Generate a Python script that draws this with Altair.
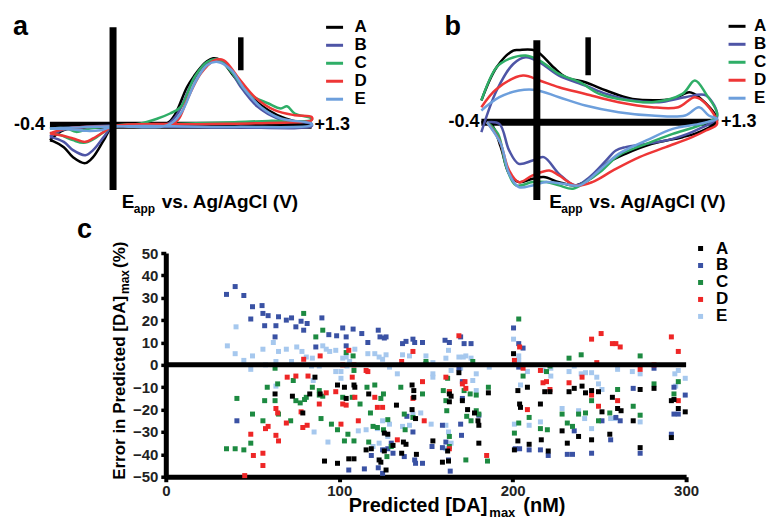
import altair as alt
import pandas as pd

FONT = "Liberation Sans"
SERIES = ["A", "B", "C", "D", "E"]
LINE_COLORS = ["#000000", "#4e55a6", "#2fae67", "#ee3636", "#6d9fdc"]
DOT_COLORS = ["#000000", "#3a52a4", "#1d8a41", "#ee2626", "#a6c8ee"]

# ---------------- panel a : (potential V, current a.u.) along the sweep ----------------
A_CV_A = [(-0.40, -15), (-0.31, -5), (-0.18, -2.5), (0.01, -1), (0.19, 0), (0.36, 1.7), (0.41, 10), (0.49, 38),
          (0.54, 50), (0.58, 58), (0.62, 64), (0.66, 67), (0.71, 65), (0.80, 48), (0.91, 28), (1.02, 15),
          (1.13, 6.7), (1.24, 2.3), (1.30, 1),
          (1.13, -1), (0.80, -1), (0.36, -1), (0.14, -1), (0.01, -1), (-0.05, -15), (-0.12, -32), (-0.17, -38),
          (-0.25, -32), (-0.31, -22), (-0.38, -16), (-0.40, -15)]
A_CV_B = [(-0.40, -11.7), (-0.31, -4.3), (0.01, -0.3), (0.36, 1), (0.43, 11.7), (0.52, 41.7), (0.60, 60),
          (0.67, 65.7), (0.71, 65), (0.76, 58.3), (0.84, 38.3), (0.95, 18.3), (1.08, 6.7), (1.30, 1),
          (1.30, -1), (0.80, -2.3), (0.15, -1), (0.01, -1), (-0.05, -11.7), (-0.12, -25), (-0.17, -30),
          (-0.25, -25), (-0.31, -16.7), (-0.40, -11.7)]
A_CV_C = [(-0.40, -3.3), (-0.29, -3.3), (-0.23, -6.7), (-0.14, -3.3), (0.01, -0.7), (0.19, 1.7), (0.30, 6.7),
          (0.38, 11.7), (0.45, 18.3), (0.54, 48.3), (0.62, 63.3), (0.69, 65.7), (0.78, 53.3), (0.89, 31.7),
          (1.02, 21.7), (1.10, 16.7), (1.14, 19), (1.19, 11.7), (1.30, 6.7),
          (1.30, 5), (1.02, 4.3), (0.80, 3), (0.36, 1), (0.01, -1), (-0.05, -6.7), (-0.12, -14.3),
          (-0.18, -17.7), (-0.25, -15), (-0.33, -10), (-0.40, -7.7)]
A_CV_D = [(-0.40, -8.3), (-0.29, -3.3), (0.01, -1), (0.36, 0), (0.43, 5), (0.49, 25), (0.58, 51.7), (0.67, 65),
          (0.73, 65), (0.82, 48.3), (0.93, 28.3), (1.06, 15), (1.19, 10), (1.30, 8.3),
          (1.30, 5), (1.02, 2.3), (0.58, 1), (0.01, -1), (-0.05, -6.7), (-0.12, -13.3), (-0.17, -16.7),
          (-0.25, -13.3), (-0.33, -10), (-0.40, -8.3)]
A_CV_E = [(-0.40, -3.3), (0.01, -1), (0.36, -0.3), (0.45, 11.7), (0.54, 41.7), (0.62, 60), (0.69, 63.3),
          (0.78, 55), (0.86, 36.7), (0.97, 18.3), (1.10, 6.7), (1.30, 1.7),
          (1.30, 0), (0.80, -1.7), (0.01, -1.7), (-0.07, -5), (-0.16, -5.7), (-0.25, -4.3), (-0.40, -3.3)]

# ---------------- panel b ----------------
B_CV_A = [(-0.40, 21.7), (-0.29, 55), (-0.17, 71.7), (-0.13, 72.3), (-0.01, 71.7), (0.12, 55), (0.21, 45),
          (0.35, 40), (0.50, 31.7), (0.69, 23.3), (0.98, 23.3), (1.10, 30), (1.17, 25), (1.30, 1.7),
          (1.17, -10), (1.05, -15), (0.83, -21.7), (0.64, -31.7), (0.50, -41.7), (0.40, -55), (0.28, -63.3),
          (0.16, -60), (0.05, -55), (-0.03, -56.7), (-0.13, -60), (-0.20, -51.7), (-0.26, -25), (-0.33, -1.7),
          (-0.40, 0)]
B_CV_B = [(-0.40, -10), (-0.29, 31.7), (-0.17, 58.3), (-0.08, 65), (0.02, 60), (0.16, 46.7), (0.35, 36.7),
          (0.50, 28.3), (0.69, 21.7), (0.88, 20), (1.07, 25), (1.22, 26.7), (1.30, 5),
          (1.17, -6.7), (0.98, -16.7), (0.79, -21.7), (0.64, -25), (0.57, -28.3), (0.50, -38.3), (0.38, -55),
          (0.28, -63.3), (0.16, -51.7), (0.05, -35), (-0.03, -38.3), (-0.13, -41.7), (-0.20, -28.3),
          (-0.27, -1.7), (-0.36, 0)]
B_CV_C = [(-0.40, 21.7), (-0.29, 55), (-0.20, 63.3), (-0.08, 66.7), (0.02, 61.7), (0.16, 48.3), (0.31, 40),
          (0.45, 28.3), (0.59, 23.3), (0.83, 20), (1.05, 28.3), (1.14, 41.7), (1.22, 28.3), (1.30, 6.7),
          (1.17, -3.3), (0.98, -11.7), (0.79, -21.7), (0.59, -33.3), (0.47, -48.3), (0.35, -60), (0.26, -66.7),
          (0.16, -63.3), (0.07, -60), (-0.03, -60), (-0.15, -63.3), (-0.22, -45), (-0.28, -11.7), (-0.36, 0)]
B_CV_D = [(-0.40, 15), (-0.29, 33.3), (-0.10, 46.7), (0.02, 41.7), (0.16, 35), (0.35, 28.3), (0.59, 20),
          (0.83, 15), (1.02, 15), (1.14, 25), (1.22, 18.3), (1.30, -1.7),
          (1.22, -8.3), (1.12, -15), (0.93, -25), (0.74, -35), (0.55, -48.3), (0.40, -60), (0.28, -63.3),
          (0.16, -53.3), (0.09, -48.3), (-0.03, -53.3), (-0.13, -60), (-0.20, -48.3), (-0.27, -18.3), (-0.36, 0)]
B_CV_E = [(-0.40, 11.7), (-0.27, 25), (-0.13, 31.7), (-0.01, 32.3), (0.16, 25), (0.35, 16.7), (0.59, 10),
          (0.83, 6.7), (1.07, 6.7), (1.17, 15), (1.24, 6.7), (1.30, 3.3),
          (1.17, -1.7), (0.98, -6.7), (0.79, -18.3), (0.59, -31.7), (0.45, -48.3), (0.31, -63.3), (0.19, -61.7),
          (0.07, -60), (-0.03, -63.3), (-0.13, -65), (-0.20, -51.7), (-0.26, -21.7), (-0.36, 0)]

# ---------------- panel c : (predicted [DA]max nM, error %) ----------------
PTS_A = [(63, -13), (73, -14), (79, -21.5), (83, -13), (86, -5.5), (89, -13), (91.5, -43), (99, -44), (99, -9),
         (103, -10), (104, -15), (105.5, -42), (108.5, -42), (108.5, -9), (109, -10), (115.5, -38), (118.5, -37.5),
         (117, -13), (123, -42.5), (124, -43.5), (126, -38.5), (127, -47), (126, -30.5), (128, -31), (131, -36),
         (133, -18), (136, -39.5), (137, -34.5), (138.5, -35.5), (142, -9), (143, -11.5), (143, -14.5), (144, -24),
         (142, -20), (144.5, -40), (154, -34), (159.5, -43.5), (162.5, -38.5), (163, -43), (163.5, -16.5),
         (164.5, -14), (169, -3.5), (171, -16), (174, -20), (178, -21.5), (163.5, -13), (180, -25), (180.5, -27),
         (180.5, -35), (186, -12.5), (200.5, 5), (203, -11.5), (204, -17.5), (204.5, -19), (208.5, -10), (203, -34),
         (201, -38), (209.5, -35.5), (216, -17.5), (216.5, -33.5), (220.5, -38.5), (218.5, -12), (221.5, -12),
         (228.5, -29.5), (231.5, -35), (232.5, -12), (235.5, -10.5), (238, -32), (240, -9.5), (242, -12.5),
         (245.5, -11.5), (245.5, -33.5), (249.5, -12), (251.5, -21), (256, -31), (257.5, -14.5), (260.5, -19.5),
         (262.5, -20.5), (269.5, -25), (273.5, -37), (273.5, -11), (281.5, -10.5), (291.5, -16), (293, -15.5),
         (295.5, -19.5), (299.5, -21), (291.5, -32.5)]
PTS_B = [(35, 31.5), (40, 35), (45, 31), (50, 26), (49, 20.5), (55.5, 26.5), (56, 23), (59, 22), (57, 17.5),
         (63, 12.5), (63.5, 17.5), (65, 21.5), (69.5, 20), (72.5, 21), (75, 17), (78, 19.5), (79.5, 15.5),
         (81.5, 18.5), (86.5, 8), (90, 21), (94, 13.5), (98.5, 13), (102, 16.5), (104, 12.5), (108, 16), (104, 8.5),
         (113, 14), (116.5, 10), (122.5, 15.5), (123.5, 12.5), (126, 12), (127, 12.5), (136.5, 9.5), (138.5, 10.5),
         (142.5, 11.5), (143.5, 10), (148, 10), (161, 11), (163.5, 10), (170, 12.5), (172, 9.5), (176, 9.5),
         (200.5, 16.5), (203.5, 9.5), (206, 7.5), (203.5, -1), (169, -1.5), (171, -7.5), (281.5, -1.5),
         (269.5, -10.5), (293, -10), (299.5, -13.5),
         (41, -25), (105.5, -47), (114.5, -46.5), (118.5, -40.5), (122.5, -46), (125, -48.5), (130, -35),
         (128, -37.5), (131, -39.5), (142.5, -30), (143.5, -42.5), (137.5, -41), (148, -44), (159.5, -37),
         (163, -42.5), (164, -47.5), (170, -26.5), (159.5, -27), (139, -23), (125, -38), (144, -44), (153.5, -36.5),
         (161.5, -34.5), (170.5, -31.5), (180.5, -22.5), (171, -15), (201.5, -37.5), (204, -37.5), (209.5, -38),
         (216, -38), (220.5, -40.5), (231.5, -40), (234.5, -40), (235.5, -29.5), (245.5, -39.5), (251.5, -25),
         (256.5, -33.5), (259.5, -23.5), (262, -25), (273.5, -39.5), (291.5, -31), (293, -22), (295.5, -22)]
PTS_C = [(79.5, 23), (86.5, 12.5), (90.5, 15.5), (104, 5.5), (177, 1.5), (150, 1.5), (63, -1.5), (64.5, -8.5),
         (58.5, -10), (63, -16), (65, -22), (57, -16), (41, -15), (50, -22), (56, -25), (49, -35), (35, -37.5),
         (40, -37.5), (45, -38), (72, -25), (73.5, -7), (75, -16), (77.5, -17), (80, -15.5), (81, -14.5), (84.5, -10),
         (88.5, -13.5), (90.5, -14), (88.5, -11.5), (89.5, -24), (95.5, -26.5), (99, -29), (103, -34), (105, -31),
         (102, -14.5), (107.5, -14.5), (108.5, -34), (108.5, -2.5), (108, 4), (112, -17.5), (116, -10),
         (120.5, -9), (124, -15), (125.5, -13), (118, -21.5), (119.5, -27.5), (122, -28), (125.5, -29), (128, -24.5),
         (130, -36.5), (127.5, -41), (117, -34.5), (135.5, -10), (137.5, -22), (138, -29), (142.5, -23.5),
         (148, -13), (150, 0.5), (160, -11.5), (163.5, -12), (161.5, -16), (162, -20.5), (163.5, -32),
         (163.5, -36.5), (172, -11.5), (173, -42.5), (176, -25), (179, -20.5), (162.5, -6), (175.5, -13),
         (179, -13.5), (173.5, -23), (180.5, -22), (186, -10), (185.5, -43), (203.5, 20.5), (206, -5),
         (203.5, -26), (201, -30.5), (209.5, -23.5), (216, -28.5), (220, -29), (219.5, -3), (221.5, -0.5),
         (228.5, -22), (231.5, -26), (234.5, -27.5), (238, -22), (242, -21.5), (245.5, -16), (249.5, -25),
         (256, -21.5), (260.5, -11), (269.5, -18.5), (273.5, -22.5), (273.5, 4), (281.5, -8.5), (295.5, -7.5),
         (293, -13), (232.5, 3), (239.5, 4.5)]
PTS_D = [(45.5, -49.5), (49, -31), (50.5, -40.5), (56, -39.5), (56, -45), (57.5, -28.5), (59, -27.5),
         (63.5, -19.5), (64.5, -21.5), (63.5, -31.5), (65, -34), (69.5, -26), (70, -5.5), (75, -5), (78, -21),
         (79, -28), (81.5, -27), (82, -5), (79.5, 2.5), (89, 4), (88.5, -17.5), (92.5, -12.5), (98, -12),
         (102, -17.5), (101, -26.5), (104, -18), (102, 0), (105.5, 6.5), (107.5, -5.5), (108.5, 0), (109, -14.5),
         (111, -25), (115.5, -2.5), (116.5, -3), (120.5, -14.5), (122, -19), (125, -19), (133.5, -33.5), (136, 1.5),
         (142.5, 6), (142.5, -15), (148, -7.5), (149, -25), (161.5, -5.5), (163.5, -12), (163.5, -37.5), (169, 13),
         (171, -8.5), (172.5, -7.5), (173, -10.5), (185, -40.5), (201, 2), (204, 8), (206, -1.5), (208.5, -20),
         (217.5, -8), (219.5, -7.5), (216, -2.5), (221.5, -11), (232.5, -8), (240, -5.5), (245.5, -13.5),
         (245.5, 11.5), (251, 14), (248.5, 1), (249.5, -18.5), (257.5, 9.5), (259.5, 9.5), (262, 8), (260.5, -16),
         (273.5, -2), (281.5, 0), (291.5, 12.5), (295.5, 6), (295.5, -16)]
PTS_E = [(35.5, 8.5), (40.5, 17), (40, 5), (45, 2), (50, 4), (49, -2), (56, 7), (57.5, 0), (62, 10), (63.5, 1.5),
         (65, 6), (69.5, 7), (72.5, 1.5), (75.5, 8), (78.5, 6), (81, 3.5), (84, -0.5), (84.5, 3), (88.5, -0.5),
         (85, -7), (90.5, 8.5), (92.5, 7), (94.5, 6), (98, 6.5), (102, 3), (101, -3), (104, 3.5), (106, 1.5),
         (109, 7), (98, -3), (101, -6), (104.5, -0.5), (116.5, 5), (120.5, 5), (123, 3.5), (125, 2.5), (127, 4.5),
         (129, -1), (133.5, -4), (136.5, 4.5), (140.5, 4), (150, 4), (154, 1), (161.5, 3), (163, 6.5), (169, 3.5),
         (173, 4), (176, 3), (179, -4), (170, -1.5), (154, -4), (154, -5.5), (171.5, 3.5), (164.5, -2.5),
         (171.5, -7.5), (177, -7), (186.5, -1), (200.5, 11.5), (203.5, 4), (203.5, 2), (204.5, -9), (208.5, -3),
         (217.5, -2.5), (222, -5), (222, -1.5), (232.5, -3), (235.5, -0.5), (239.5, -4), (242, -3.5),
         (245.5, -3.5), (248.5, -5.5), (249.5, -8.5), (251.5, -11), (260.5, -2), (269, -3), (273.5, -4),
         (293.5, -4), (295.5, -2.5), (299.5, -6), (294, -9.5),
         (63.5, -9.5), (85.5, -30), (93.5, -34.5), (111, -29.5), (115.5, -29), (122, -28.5), (125, -25),
         (129, -26.5), (123, -35), (126, -38), (128, -32), (119.5, -36.5), (136.5, -27.5), (140.5, -27), (144, -24),
         (147, -21.5), (161.5, -27), (163, -30), (164.5, -35), (161.5, -37.5), (179, -11.5), (201, -26.5),
         (209.5, -27), (216, -25.5), (228.5, -19.5), (238, -20.5), (241.5, -24), (245.5, -28.5), (256.5, -24),
         (259, -24), (273.5, -25.5), (153, -26.5), (142.5, -22)]

X_TICKS = [0, 100, 200, 300]
Y_TICKS = [-50, -40, -30, -20, -10, 0, 10, 20, 30, 40, 50]


def cv_df(curves):
    rows = []
    for s, pts in zip(SERIES, curves):
        for i, (e, c) in enumerate(pts):
            rows.append({"series": s, "idx": i, "E": e, "I": c})
    return pd.DataFrame(rows)


def txt(text, x, y, size, align="left", angle=0, baseline="alphabetic"):
    return alt.Chart(pd.DataFrame({"t": [text]})).mark_text(
        align=align, baseline=baseline, font=FONT, fontSize=size, fontWeight="bold",
        color="black", angle=angle
    ).encode(x=alt.value(x), y=alt.value(y), text="t:N")


def cv_panel(curves, ydom, width, height, vline, bar, letter, lab_x, leg, dxl, dxr, anchor=False):
    xs = alt.Scale(domain=[-0.4, 1.3], nice=False, zero=False)
    ys = alt.Scale(domain=ydom, nice=False, zero=False)
    df = cv_df(curves)
    hax = alt.Chart(pd.DataFrame({"x0": [-0.4], "x1": [1.3], "y": [0]})).mark_rule(
        strokeWidth=7, color="black", strokeCap="butt").encode(
        x=alt.X("x0:Q", scale=xs, axis=None), x2="x1:Q", y=alt.Y("y:Q", scale=ys, axis=None))
    lines = alt.Chart(df).mark_line(strokeWidth=2.5, interpolate="catmull-rom").encode(
        x=alt.X("E:Q", scale=xs, axis=None),
        y=alt.Y("I:Q", scale=ys, axis=None),
        color=alt.Color("series:N", scale=alt.Scale(domain=SERIES, range=LINE_COLORS), legend=leg),
        order="idx:Q")
    vl = alt.Chart(pd.DataFrame({"x": [vline[0]], "y0": [vline[1]], "y1": [vline[2]]})).mark_rule(
        strokeWidth=7, color="black", strokeCap="butt").encode(
        x=alt.X("x:Q", scale=xs, axis=None), y=alt.Y("y0:Q", scale=ys, axis=None), y2="y1:Q")
    sb = alt.Chart(pd.DataFrame({"x": [bar[0]], "y0": [bar[1]], "y1": [bar[2]]})).mark_rule(
        strokeWidth=5.5, color="black", strokeCap="butt").encode(
        x=alt.X("x:Q", scale=xs, axis=None), y=alt.Y("y0:Q", scale=ys, axis=None), y2="y1:Q")
    tl = alt.Chart(pd.DataFrame({"x": [-0.4], "y": [0], "t": ["-0.4"]})).mark_text(
        align="right", baseline="middle", dx=dxl, font=FONT, fontSize=18, fontWeight="bold", color="black").encode(
        x=alt.X("x:Q", scale=xs, axis=None), y=alt.Y("y:Q", scale=ys, axis=None), text="t:N")
    tr = alt.Chart(pd.DataFrame({"x": [1.3], "y": [0], "t": ["+1.3"]})).mark_text(
        align="left", baseline="middle", dx=dxr, font=FONT, fontSize=18, fontWeight="bold", color="black").encode(
        x=alt.X("x:Q", scale=xs, axis=None), y=alt.Y("y:Q", scale=ys, axis=None), text="t:N")
    layers = [hax, lines, vl, sb, tl, tr,
              txt(letter, -37, 15, 27),
              txt("E", lab_x, 188, 19),
              txt("app", lab_x + 12, 193, 12),
              txt("vs. Ag/AgCl (V)", lab_x + 40, 188, 19)]
    if anchor:
        layers.append(alt.Chart(pd.DataFrame({"v": [0]})).mark_rule(strokeOpacity=0).encode(
            x=alt.value(-42), x2=alt.value(-40), y=alt.value(-12)))
    return alt.layer(*layers).properties(width=width, height=height)


leg_a = alt.Legend(orient="none", legendX=275, legendY=-3, title=None, symbolType="stroke",
                   symbolSize=289, symbolStrokeWidth=3, labelFont=FONT, labelFontSize=17,
                   labelFontWeight="bold", labelColor="black", labelOffset=10, rowPadding=-1, padding=0)
leg_b = alt.Legend(orient="none", legendX=246, legendY=-4, title=None, symbolType="stroke",
                   symbolSize=289, symbolStrokeWidth=3, labelFont=FONT, labelFontSize=17,
                   labelFontWeight="bold", labelColor="black", labelOffset=7, rowPadding=-0.5, padding=0)

panel_a = cv_panel([A_CV_A, A_CV_B, A_CV_C, A_CV_D, A_CV_E], [-70, 105], 262, 175,
                   (0.01, -65, 98), (0.84, 55, 88), "a", 72, leg_a, -5, 3, anchor=True)
panel_b = cv_panel([B_CV_A, B_CV_B, B_CV_C, B_CV_D, B_CV_E], [-85, 102], 236, 187,
                   (0.0, -78, 82), (0.37, 47, 85), "b", 68, leg_b, -2, 4)

# ---------------- panel c ----------------
rows = []
for s, pts in [("E", PTS_E), ("B", PTS_B), ("C", PTS_C), ("D", PTS_D), ("A", PTS_A)]:
    for x, y in pts:
        rows.append({"series": s, "x": x, "y": y})
sdf = pd.DataFrame(rows)

xs_c = alt.Scale(domain=[0, 300], nice=False, zero=False)
ys_c = alt.Scale(domain=[-50, 50], nice=False, zero=False)
X_AX = alt.Axis(values=X_TICKS, title=None, grid=False, domainWidth=5, domainColor="black",
                tickWidth=4, tickSize=5, tickColor="black", labelFont=FONT, labelFontSize=15,
                labelFontWeight="bold", labelColor="#222222", labelPadding=2, labelFlush=False)
Y_AX = alt.Axis(values=Y_TICKS, title=None, grid=False, domainWidth=5, domainColor="black",
                tickWidth=3.5, tickSize=5, tickColor="black", labelFont=FONT, labelFontSize=15,
                labelFontWeight="bold", labelColor="#222222", labelPadding=3, labelFlush=False)

leg_c = alt.Legend(orient="none", legendX=527, legendY=-13, title=None, symbolType="square",
                   symbolSize=25, symbolStrokeWidth=0, labelFont=FONT, labelFontSize=17,
                   labelFontWeight="bold", labelColor="black", labelOffset=7, rowPadding=-2, padding=0)

pts = alt.Chart(sdf).mark_square(size=25, opacity=1).encode(
    x=alt.X("x:Q", scale=xs_c, axis=X_AX),
    y=alt.Y("y:Q", scale=ys_c, axis=Y_AX),
    color=alt.Color("series:N", scale=alt.Scale(domain=SERIES, range=DOT_COLORS), legend=leg_c))
zero = alt.Chart(pd.DataFrame({"x": [0], "x2": [300], "y": [0]})).mark_rule(
    strokeWidth=5, color="black", strokeCap="butt").encode(
    x=alt.X("x:Q", scale=xs_c, axis=X_AX), x2="x2:Q", y=alt.Y("y:Q", scale=ys_c, axis=Y_AX))

panel_c = alt.layer(
    pts, zero,
    txt("c", -89, -15, 27),
    txt("Error in Predicted [DA]", -41, 43, 17, align="right", angle=270),
    txt("max", -37, 41, 12, align="left", angle=270),
    txt("(%)", -41, 15, 17, align="left", angle=270),
    txt("Predicted [DA]", 322, 259, 20, align="right"),
    txt("max", 324, 264, 13),
    txt("(nM)", 358, 259, 20),
).properties(width=521, height=224)

spacer = alt.Chart(pd.DataFrame({"v": [0]})).mark_point(opacity=0).encode(
    x=alt.value(0), y=alt.value(0)).properties(width=100, height=10)

top = alt.hconcat(panel_a, panel_b, spacing=170, bounds="flush").resolve_scale(
    color="independent", x="independent", y="independent").resolve_legend(color="independent")
bottom = alt.hconcat(spacer, panel_c, spacing=16, bounds="flush").resolve_scale(
    color="independent", x="independent", y="independent")

chart = alt.vconcat(top, bottom, spacing=1, padding=0).resolve_scale(
    color="independent", x="independent", y="independent").resolve_legend(
    color="independent").configure_view(stroke=None)

chart.save("out.html", embed_options={"renderer": "svg", "actions": False})
